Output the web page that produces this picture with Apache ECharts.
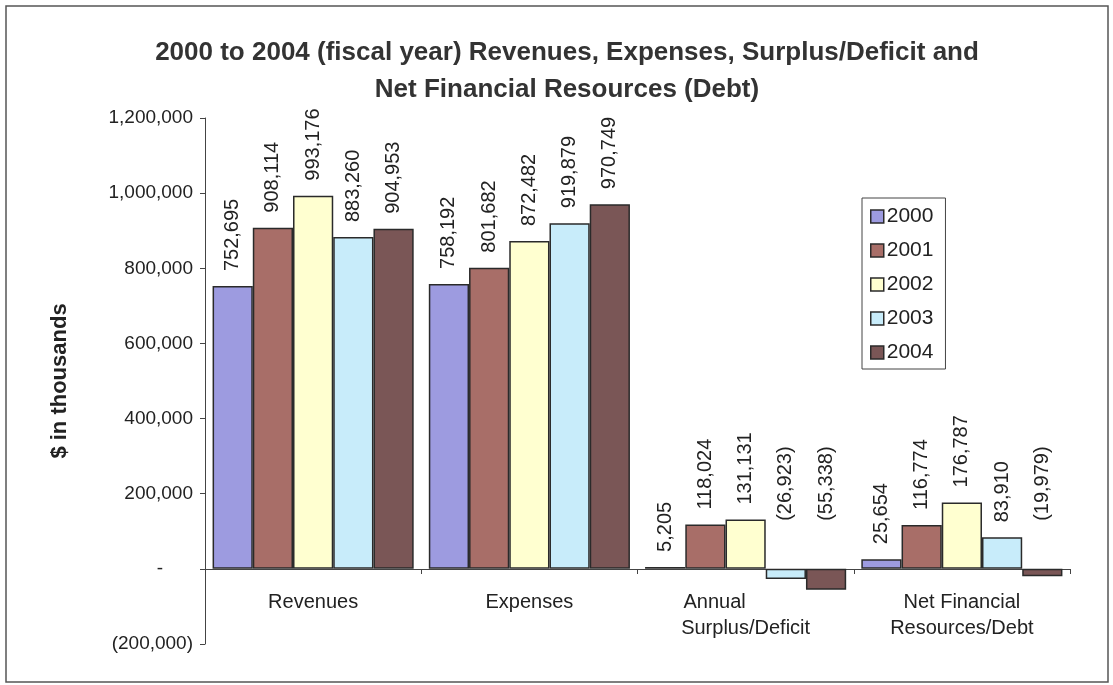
<!DOCTYPE html>
<html>
<head>
<meta charset="utf-8">
<script src="https://cdn.jsdelivr.net/npm/echarts@6/dist/echarts.min.js"></script>
<style>
  html, body { margin: 0; padding: 0; background: #fff; }
  #chart { width: 1113px; height: 685px; }
</style>
</head>
<body>
<div id="chart"></div>
<script>
// 类别、年份与数值（单位：千美元）
const categories = ['Revenues', 'Expenses', 'Annual\nSurplus/Deficit', 'Net Financial\nResources/Debt']
const years = ['2000', '2001', '2002', '2003', '2004']
const values2000 = [752695, 758192, 5205, 25654]
const values2001 = [908114, 801682, 118024, 116774]
const values2002 = [993176, 872482, 131131, 176787]
const values2003 = [883260, 919879, -26923, 83910]
const values2004 = [904953, 970749, -55338, -19979]
const yearColors = ['#9d9be0', '#a86e68', '#ffffd0', '#c8ecfa', '#7a5656']

const font = 'Liberation Sans, Arial, sans-serif'

// 千分位格式，负数加括号，零显示为 "-"
function fmt(v) {
  if (v === 0) return '-'
  const s = Math.abs(v).toLocaleString('en-US')
  return v < 0 ? '(' + s + ')' : s
}

function makeSeries(name, data, color) {
  return {
    name,
    type: 'bar',
    barGap: '0%',
    barCategoryGap: '7%',
    itemStyle: { color, borderColor: '#2a2a2a', borderWidth: 1.5 },
    data: data.map(v => ({
      value: v,
      label: { distance: v < 0 ? 48 : 15 }
    })),
    label: {
      show: true,
      position: 'top',
      rotate: 90,
      align: 'left',
      verticalAlign: 'middle',
      fontFamily: font,
      fontSize: 20,
      color: '#222',
      formatter: p => fmt(p.value)
    }
  }
}

const seriesData = [values2000, values2001, values2002, values2003, values2004]

const chart = echarts.init(document.getElementById('chart'))
chart.setOption({
  animation: false,
  backgroundColor: '#fff',
  title: {
    text: '2000 to 2004 (fiscal year) Revenues, Expenses, Surplus/Deficit and\nNet Financial Resources (Debt)',
    left: 562,
    top: 29,
    textAlign: 'center',
    textStyle: { fontFamily: font, fontSize: 26, fontWeight: 'bold', color: '#333', lineHeight: 37 }
  },
  legend: {
    orient: 'vertical',
    left: 862,
    top: 198,
    padding: [8, 12, 6, 8],
    itemGap: 13,
    itemWidth: 13,
    itemHeight: 13,
    icon: 'rect',
    borderColor: '#444',
    borderWidth: 1,
    textStyle: { fontFamily: font, fontSize: 21, color: '#222', padding: [0, 0, 0, -2] },
    itemStyle: { borderColor: '#2a2a2a', borderWidth: 1.5 },
    data: years
  },
  grid: { left: 205, right: 43, top: 118, bottom: 41, outerBoundsMode: 'none', containLabel: false },
  graphic: [{
    type: 'rect',
    shape: { x: 6, y: 6, width: 1102, height: 676 },
    style: { fill: 'none', stroke: '#555', lineWidth: 1.5 }
  }],
  xAxis: {
    type: 'category',
    data: categories,
    offset: -75,
    axisLine: { onZero: false, lineStyle: { color: '#444' } },
    axisTick: { show: true, length: 5, lineStyle: { color: '#444' } },
    axisLabel: {
      fontFamily: font, fontSize: 20, color: '#222', margin: 20, lineHeight: 26,
      // "Annual" 一行在原图中偏左
      formatter: v => v.startsWith('Annual') ? v.replace('Annual', '{a|Annual}') : v,
      rich: { a: { fontFamily: font, fontSize: 20, color: '#222', lineHeight: 26, padding: [0, 62, 0, 0] } }
    }
  },
  yAxis: {
    type: 'value',
    min: -200000,
    max: 1200000,
    interval: 200000,
    name: '$ in thousands',
    nameLocation: 'middle',
    nameGap: 134,
    nameTextStyle: { fontFamily: font, fontSize: 22, fontWeight: 'bold', color: '#222' },
    splitLine: { show: false },
    axisLine: { show: true, lineStyle: { color: '#444' } },
    axisTick: { show: true, length: 5, lineStyle: { color: '#444' } },
    axisLabel: {
      fontFamily: font, fontSize: 19, color: '#222', margin: 12,
      formatter: v => v === 0 ? '{z|-}' : fmt(v),
      rich: { z: { fontFamily: font, fontSize: 19, color: '#222', padding: [0, 30, 0, 0] } }
    }
  },
  series: years.map((y, i) => makeSeries(y, seriesData[i], yearColors[i]))
})
</script>
</body>
</html>
